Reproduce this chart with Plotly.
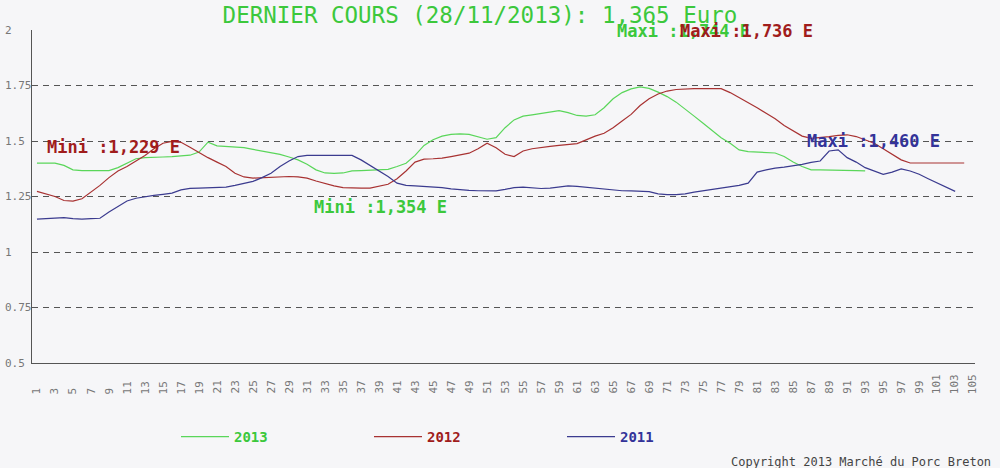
import plotly.graph_objects as go

TITLE = "DERNIER COURS (28/11/2013): 1,365 Euro"
COPYRIGHT = "Copyright 2013 Marché du Porc Breton"

# cotations, index of the quotation in the year
PRIX_2013 = [
    1.400, 1.400, 1.400, 1.390, 1.370, 1.367, 1.367, 1.367, 1.367, 1.380,
    1.400, 1.420, 1.425, 1.425, 1.428, 1.430, 1.432, 1.436, 1.450, 1.495,
    1.478, 1.476, 1.474, 1.470, 1.462, 1.455, 1.448, 1.440, 1.428, 1.415,
    1.395, 1.370, 1.356, 1.354, 1.356, 1.365, 1.367, 1.368, 1.370, 1.372,
    1.385, 1.400, 1.435, 1.480, 1.506, 1.522, 1.530, 1.532, 1.530, 1.520,
    1.508, 1.515, 1.560, 1.595, 1.612, 1.618, 1.625, 1.632, 1.637, 1.628,
    1.615, 1.612, 1.618, 1.650, 1.690, 1.718, 1.735, 1.744, 1.737, 1.720,
    1.700, 1.675, 1.645, 1.612, 1.580, 1.548, 1.515, 1.490, 1.460, 1.452,
    1.450, 1.448, 1.446, 1.430, 1.405, 1.385, 1.370, 1.370, 1.370, 1.370,
    1.370, 1.367, 1.365,
]
PRIX_2012 = [
    1.273, 1.262, 1.250, 1.232, 1.229, 1.240, 1.268, 1.300, 1.335, 1.365,
    1.385, 1.410, 1.435, 1.465, 1.490, 1.498, 1.494, 1.472, 1.448, 1.425,
    1.405, 1.385, 1.355, 1.338, 1.333, 1.335, 1.338, 1.340, 1.340, 1.338,
    1.333, 1.320, 1.308, 1.298, 1.290, 1.288, 1.288, 1.288, 1.295, 1.305,
    1.330, 1.365, 1.405, 1.418, 1.420, 1.423, 1.430, 1.438, 1.445, 1.465,
    1.490, 1.470, 1.440, 1.430, 1.455, 1.465, 1.472, 1.476, 1.480, 1.484,
    1.488, 1.505, 1.522, 1.535, 1.560, 1.590, 1.620, 1.660, 1.690, 1.712,
    1.725, 1.732, 1.735, 1.736, 1.736, 1.736, 1.736, 1.718, 1.695, 1.675,
    1.650, 1.625, 1.600, 1.570, 1.545, 1.522, 1.512, 1.515, 1.520, 1.525,
    1.528, 1.520, 1.505, 1.490, 1.465, 1.440, 1.415, 1.401, 1.401, 1.401,
    1.401, 1.401, 1.401, 1.401,
]
PRIX_2011 = [
    1.148, 1.150, 1.155, 1.155, 1.150, 1.148, 1.150, 1.152, 1.180, 1.205,
    1.230, 1.242, 1.250, 1.255, 1.260, 1.265, 1.280, 1.287, 1.288, 1.290,
    1.290, 1.292, 1.300, 1.308, 1.318, 1.335, 1.355, 1.385, 1.410, 1.430,
    1.435, 1.435, 1.435, 1.435, 1.435, 1.435, 1.415, 1.390, 1.365, 1.340,
    1.310, 1.300, 1.298, 1.296, 1.295, 1.290, 1.284, 1.280, 1.278, 1.276,
    1.275, 1.275, 1.282, 1.290, 1.292, 1.290, 1.286, 1.288, 1.294, 1.298,
    1.296, 1.292, 1.288, 1.282, 1.278, 1.276, 1.275, 1.274, 1.272, 1.262,
    1.258, 1.258, 1.262, 1.270, 1.276, 1.282, 1.287, 1.294, 1.300, 1.310,
    1.360, 1.370, 1.378, 1.382, 1.388, 1.395, 1.404, 1.410, 1.455, 1.460,
    1.425, 1.405, 1.380, 1.365, 1.350, 1.360, 1.374, 1.365, 1.350, 1.330,
    1.310, 1.290, 1.273,
]

Y_TICKS = [2, 1.75, 1.5, 1.25, 1, 0.75, 0.5]
Y_LABELS = ["2", "1.75", "1.5", "1.25", "1", "0.75", "0.5"]
X_TICKS = list(range(1, 106, 2))

MONO = "DejaVu Sans Mono, Liberation Mono, monospace"
BG = '#f6f6f8'

SERIES = [
    ("2013", PRIX_2013, '#5ad65a', '#3cc83c'),
    ("2012", PRIX_2012, '#a83232', '#a01c1c'),
    ("2011", PRIX_2011, '#3b3b8f', '#333399'),
]

fig = go.Figure()
for name, vals, line_col, txt_col in SERIES:
    fig.add_trace(go.Scatter(
        x=list(range(1, len(vals) + 1)),
        y=vals,
        mode='lines',
        name=f'<span style="color:{txt_col}"><b>{name}</b></span>',
        line=dict(color=line_col, width=1.2),
    ))

annotations = []
# y tick labels, left aligned on the edge of the picture
for v, lab in zip(Y_TICKS, Y_LABELS):
    annotations.append(dict(
        text=lab, xref='paper', x=-0.031, xanchor='left',
        yref='y', y=v, yanchor='middle', showarrow=False,
        font=dict(family=MONO, size=11, color='#777'),
    ))
# x tick labels, rotated and aligned at the bottom
for t in X_TICKS:
    annotations.append(dict(
        text=str(t), xref='x', x=t, xanchor='center',
        yref='paper', y=-0.099, yanchor='bottom', textangle=-90,
        showarrow=False, font=dict(family=MONO, size=11, color='#777'),
    ))

# mini / maxi labels
for text, x, y, col in [
    ("Mini :1,229 E", 1.9, 1.474, '#a01c1c'),
    ("Mini :1,354 E", 31.6, 1.203, '#3cc83c'),
    ("Mini :1,148 E", -2.3, 0.797, '#333399'),
    ("Maxi :1,460 E", 86.3, 1.502, '#333399'),
    ("Maxi :1,744 E", 65.2, 1.995, '#3cc83c'),
    ("Maxi :1,736 E", 72.2, 1.995, '#a01c1c'),
]:
    annotations.append(dict(
        text=f"<b>{text}</b>", xref='x', x=x, xanchor='left',
        yref='y', y=y, yanchor='middle', showarrow=False,
        font=dict(family=MONO, size=17, color=col),
    ))

annotations.append(dict(
    text=COPYRIGHT, xref='paper', x=1.019, xanchor='right',
    yref='paper', y=-0.297, yanchor='middle', showarrow=False,
    font=dict(family=MONO, size=12, color='#444'),
))

fig.update_layout(
    width=1000, height=468,
    margin=dict(t=30, r=25, b=105, l=32),
    paper_bgcolor=BG,
    plot_bgcolor=BG,
    title=dict(text=TITLE, x=0.48, xanchor='center', y=0.968, yanchor='middle',
               font=dict(family=MONO, size=22.5, color='#3cc83c')),
    xaxis=dict(range=[0.45, 105.2], showgrid=False, zeroline=False,
               showline=True, linecolor='#555', linewidth=1,
               showticklabels=False, ticks=''),
    yaxis=dict(range=[0.5, 2], tickvals=Y_TICKS[:-1], showticklabels=False,
               showgrid=True, gridcolor='#555', griddash='6px,5px', gridwidth=1,
               zeroline=False, showline=True, linecolor='#555', linewidth=1,
               ticks=''),
    legend=dict(orientation='h', x=0.1527, xanchor='left', y=-0.222, yanchor='middle',
                entrywidth=130, entrywidthmode='pixels', itemwidth=48,
                bgcolor='rgba(0,0,0,0)', font=dict(family=MONO, size=14)),
    annotations=annotations,
    showlegend=True,
)

fig.write_html("out.html", config={'displayModeBar': False},
               post_script="document.body.style.margin='0';")
